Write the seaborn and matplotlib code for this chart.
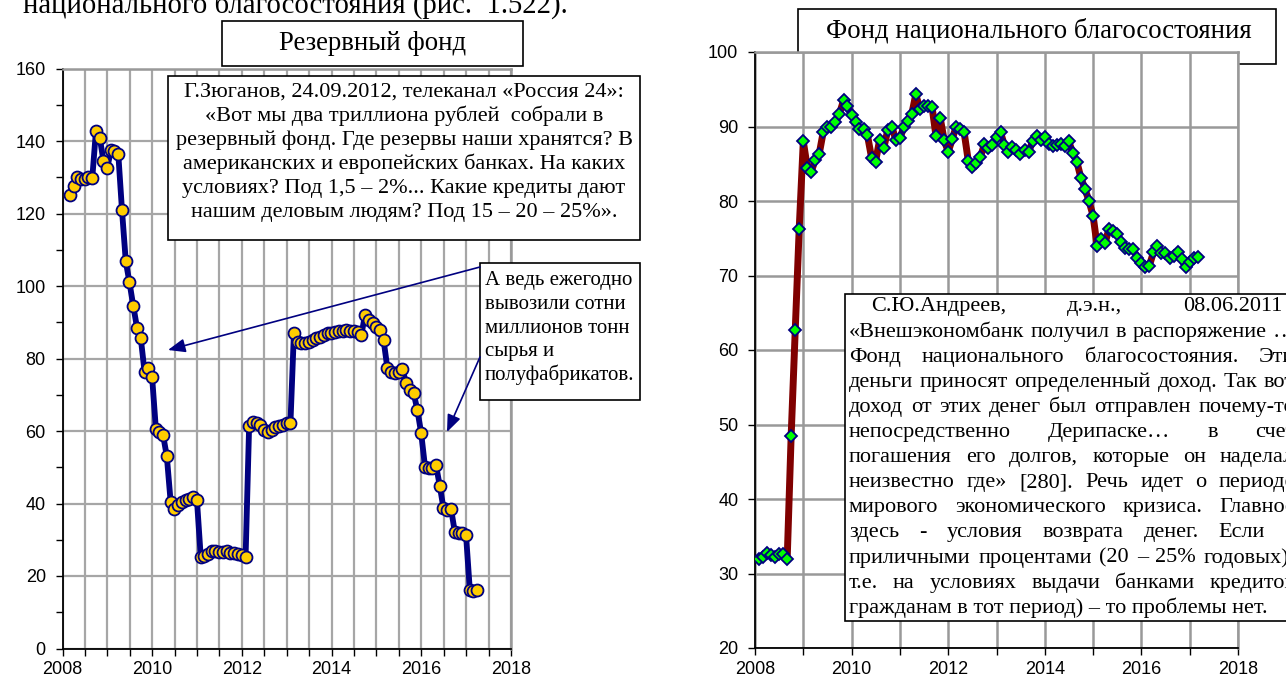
import numpy as np
import pandas as pd
import matplotlib
matplotlib.use("Agg")
import matplotlib.pyplot as plt
import seaborn as sns
from matplotlib.patches import Rectangle, FancyArrowPatch, ArrowStyle
from matplotlib.ticker import MultipleLocator, StrMethodFormatter

# ------------------------------------------------------------------ data
reserve_first_month = "2008-02"          # monthly, values at month end
reserve_fund = [
    125.1, 127.6, 130.2, 129.6, 129.4, 130.2, 129.8, 142.8, 140.9, 134.6, 132.6,          # 2008
    137.5, 137.3, 136.4, 121.0, 106.8, 101.0, 94.5, 88.4, 85.6, 76.3, 77.3, 75.0,         # 2009
    60.5, 59.8, 58.8, 53.0, 40.5, 38.6, 39.6, 40.4, 40.9, 41.2, 41.8, 41.0,               # 2010
    25.3, 25.6, 26.1, 27.0, 26.9, 26.7, 26.7, 27.0, 26.4, 26.3, 26.1, 25.8,               # 2011
    25.2, 61.4, 62.6, 62.3, 61.7, 60.3, 59.6, 60.3, 61.0, 61.4, 61.7, 62.1,               # 2012
    62.1, 86.9, 84.6, 84.2, 84.2, 84.6, 85.1, 85.6, 86.0, 86.5, 86.9, 87.1,               # 2013
    87.3, 87.6, 87.5, 87.8, 87.6, 87.7, 87.2, 86.5, 92.0, 90.6, 89.7, 88.8,               # 2014
    87.9, 85.1, 77.3, 76.4, 76.0, 76.2, 77.0, 73.2, 71.3, 70.4, 65.8, 59.4,               # 2015
    50.2, 49.7, 49.7, 50.6, 44.8, 38.7, 38.3, 38.5, 32.2, 32.0, 31.9, 31.3,               # 2016
    16.1, 15.9, 16.1,                                                                     # 2017
]

nwf_first_month = "2008-02"              # monthly, values at month start
nwf = [
    32.0, 32.2, 32.7, 32.5, 32.2, 32.6, 32.6, 32.0, 48.5, 62.7, 76.3,                     # 2008
    88.0, 84.4, 83.9, 85.5, 86.3, 89.3, 89.9, 90.0, 90.6, 91.7, 93.5, 92.8,               # 2009
    91.5, 90.6, 89.7, 89.6, 88.8, 85.8, 85.3, 88.2, 87.1, 89.5, 90.0, 88.2,               # 2010
    88.4, 90.0, 90.8, 91.7, 94.3, 92.4, 92.7, 92.7, 92.6, 88.7, 91.2, 88.2,               # 2011
    86.6, 88.3, 90.0, 89.7, 89.2, 85.4, 84.5, 85.1, 85.9, 87.6, 87.1, 87.5,               # 2012
    88.6, 89.2, 87.5, 86.6, 87.3, 86.8, 86.3, 86.8, 86.6, 88.0, 88.7, 88.2,               # 2013
    88.6, 87.6, 87.4, 87.5, 87.7, 87.4, 88.0, 86.4, 85.2, 83.1, 81.6, 80.0,               # 2014
    78.0, 73.9, 74.9, 74.3, 76.3, 76.0, 75.6, 74.5, 73.7, 73.6, 73.5, 72.4,               # 2015
    71.7, 71.1, 71.3, 73.1, 73.9, 73.0, 73.0, 72.3, 72.6, 73.1, 72.2, 71.1,               # 2016
    71.8, 72.4, 72.5,                                                                     # 2017
]

header_text = "национального благосостояния (рис.  1.522)."
title_left = "Резервный фонд"
title_right = "Фонд национального благосостояния"
quote_left = [
    "Г.Зюганов, 24.09.2012, телеканал «Россия 24»:",
    "«Вот мы два триллиона рублей  собрали в",
    "резервный фонд. Где резервы наши хранятся? В",
    "американских и европейских банках. На каких",
    "условиях? Под 1,5 – 2%... Какие кредиты дают",
    "нашим деловым людям? Под 15 – 20 – 25%».",
]
note_left = [
    "А ведь ежегодно",
    "вывозили сотни",
    "миллионов тонн",
    "сырья и",
    "полуфабрикатов.",
]
quote_right = [
    "С.Ю.Андреев, д.э.н., 08.06.2011",
    "«Внешэкономбанк получил в распоряжение …",
    "Фонд национального благосостояния. Эти",
    "деньги приносят определенный доход. Так вот",
    "доход от этих денег был отправлен почему-то",
    "непосредственно Дерипаске… в счет",
    "погашения его долгов, которые он наделал",
    "неизвестно где» [280]. Речь идет о периоде",
    "мирового экономического кризиса. Главное",
    "здесь - условия возврата денег. Если с",
    "приличными процентами (20 – 25% годовых),",
    "т.е. на условиях выдачи банками кредитов",
    "гражданам в тот период) – то проблемы нет.",
]

# ------------------------------------------------------------------ setup
W, H, DPI = 1286, 680, 100
sns.set_theme(style="white")
plt.rcParams["font.family"] = ["Liberation Sans", "DejaVu Sans"]
SERIF = ["Liberation Serif", "DejaVu Serif"]
NAVY = "#000080"
GRID = "#a6a6a6"


def decimal_year(dates):
    days = np.where(dates.is_leap_year, 366.0, 365.0)
    return dates.year + (dates.dayofyear - 1) / days


res_dates = pd.date_range(reserve_first_month, periods=len(reserve_fund), freq="ME")
nwf_dates = pd.date_range(nwf_first_month, periods=len(nwf), freq="MS")
df_res = pd.DataFrame({"year": decimal_year(res_dates), "value": reserve_fund})
df_nwf = pd.DataFrame({"year": decimal_year(nwf_dates), "value": nwf})

fig = plt.figure(figsize=(W / DPI, H / DPI), dpi=DPI, facecolor="white")


def rect(x0, y0, x1, y1):
    return [x0 / W, 1 - y1 / H, (x1 - x0) / W, (y1 - y0) / H]


def fx(px):
    return px / W


def fy(py):
    return 1 - py / H


ax1 = fig.add_axes(rect(62.5, 68.5, 511, 648.5))
ax2 = fig.add_axes(rect(755, 52, 1238, 648))

# ------------------------------------------------------------------ left chart
sns.lineplot(data=df_res, x="year", y="value", ax=ax1, color=NAVY, linewidth=4.2,
             marker="o", markersize=8.6, markerfacecolor="#FFCC00",
             markeredgecolor=NAVY, markeredgewidth=1.3, zorder=3)
ax1.set_xlim(2008, 2018)
ax1.set_ylim(0, 160)
ax1.xaxis.set_major_locator(MultipleLocator(2))
ax1.xaxis.set_minor_locator(MultipleLocator(0.5))
ax1.yaxis.set_major_locator(MultipleLocator(20))
ax1.yaxis.set_minor_locator(MultipleLocator(10))
ax1.grid(which="both", axis="x", color=GRID, linewidth=1.6)
ax1.grid(which="major", axis="y", color=GRID, linewidth=1.6)

# ------------------------------------------------------------------ right chart
sns.lineplot(data=df_nwf, x="year", y="value", ax=ax2, color="#800000", linewidth=5.0,
             marker="D", markersize=6.2, markerfacecolor="#00FF00",
             markeredgecolor=NAVY, markeredgewidth=1.3, zorder=3)
ax2.set_xlim(2008, 2018)
ax2.set_ylim(20, 100)
ax2.xaxis.set_major_locator(MultipleLocator(2))
ax2.xaxis.set_minor_locator(MultipleLocator(1))
ax2.yaxis.set_major_locator(MultipleLocator(10))
ax2.grid(which="both", axis="x", color="#999999", linewidth=1.8)
ax2.grid(which="major", axis="y", color="#999999", linewidth=1.8)

for ax in (ax1, ax2):
    ax.set_facecolor("white")
    ax.set_axisbelow(True)
    ax.set_xlabel("")
    ax.set_ylabel("")
    ax.xaxis.set_major_formatter(StrMethodFormatter("{x:.0f}"))
    ax.yaxis.set_major_formatter(StrMethodFormatter("{x:.0f}"))
    ax.tick_params(which="both", direction="out", length=5, width=1.0, color="black",
                   labelsize=13, labelcolor="black")
    ax.tick_params(axis="x", which="both", pad=4)
    ax.tick_params(axis="y", which="both", pad=7)
    ax.tick_params(which="both", bottom=True, left=True, top=False, right=False)
    for s in ("left", "bottom"):
        ax.spines[s].set_color("black")
        ax.spines[s].set_linewidth(1.3)
    for s in ("top", "right"):
        ax.spines[s].set_color("#999999")
        ax.spines[s].set_linewidth(1.8)

# ------------------------------------------------------------------ text helpers
renderer = fig.canvas.get_renderer()


def text_width(s, size, family=SERIF):
    t = fig.text(0, 0, s, fontsize=size, family=family)
    w = t.get_window_extent(renderer).width
    t.remove()
    return w


def fit_size(s, target_px, family=SERIF, base=12.0):
    return base * target_px / text_width(s, base, family)


f_ann = fit_size(quote_left[2], 458)
f_note = min(f_ann, fit_size(note_left[-1], 150))
f_title = fit_size(title_right, 427)
f_head = fit_size(header_text, 546)


def box(x0, y0, x1, y1, z=5):
    fig.add_artist(Rectangle((fx(x0), fy(y1)), (x1 - x0) / W, (y1 - y0) / H,
                             transform=fig.transFigure, facecolor="white",
                             edgecolor="black", linewidth=1.2, zorder=z))


def justified(line, x_left, x_right, y, size, z=7):
    words = line.split()
    widths = [text_width(w, size) for w in words]
    min_gap = text_width("a b", size) - text_width("ab", size)
    gap = max((x_right - x_left - sum(widths)) / max(len(words) - 1, 1), min_gap)
    x = x_left
    for w, wd in zip(words, widths):
        fig.text(fx(x), fy(y), w, fontsize=size, family=SERIF, ha="left",
                 va="center", color="black", zorder=z)
        x += wd + gap


# header of the page (cut at the top)
fig.text(fx(23), fy(13), header_text, fontsize=f_head, family=SERIF,
         ha="left", va="baseline", color="black")

# left title box
box(222, 21, 523, 66, z=2)
fig.text(fx(372.5), fy(43), title_left, fontsize=f_title, family=SERIF,
         ha="center", va="center", color="black", zorder=3)

# right title box (behind the plot area)
box(798, 9, 1276, 64, z=-1)
fig.text(fx(1039), fy(31), title_right, fontsize=f_title, family=SERIF,
         ha="center", va="center", color="black", zorder=-1)

# Zyuganov quote
box(168, 76, 640, 240)
for i, line in enumerate(quote_left):
    fig.text(fx(404), fy(92 + i * 24), line, fontsize=f_ann, family=SERIF,
             ha="center", va="center", color="black", zorder=7)

# note box
box(480, 263, 640, 400)
for i, line in enumerate(note_left):
    fig.text(fx(485), fy(281 + i * 23.5), line, fontsize=f_note, family=SERIF,
             ha="left", va="center", color="black", zorder=7)

# Andreev quote (justified, cut at right edge)
box(845, 294, 1300, 621)
for i, line in enumerate(quote_right):
    y = 307 + i * 25.1
    if i == 0:
        justified(line, 871, 1282, y, f_ann)
    elif i == len(quote_right) - 1:
        fig.text(fx(849), fy(y), line, fontsize=f_ann, family=SERIF,
                 ha="left", va="center", color="black", zorder=7)
    else:
        justified(line, 849, 1295, y, f_ann)

# arrows
style = ArrowStyle("-|>", head_length=0.8, head_width=0.32)
for (x0, y0), (x1, y1) in [((480, 267), (168, 350)), ((480, 357), (447, 432))]:
    fig.add_artist(FancyArrowPatch((fx(x0), fy(y0)), (fx(x1), fy(y1)),
                                   transform=fig.transFigure, arrowstyle=style,
                                   mutation_scale=13, color=NAVY, linewidth=1.2,
                                   shrinkA=0, shrinkB=0, zorder=8))

fig.savefig("out.png", dpi=DPI, facecolor="white")
